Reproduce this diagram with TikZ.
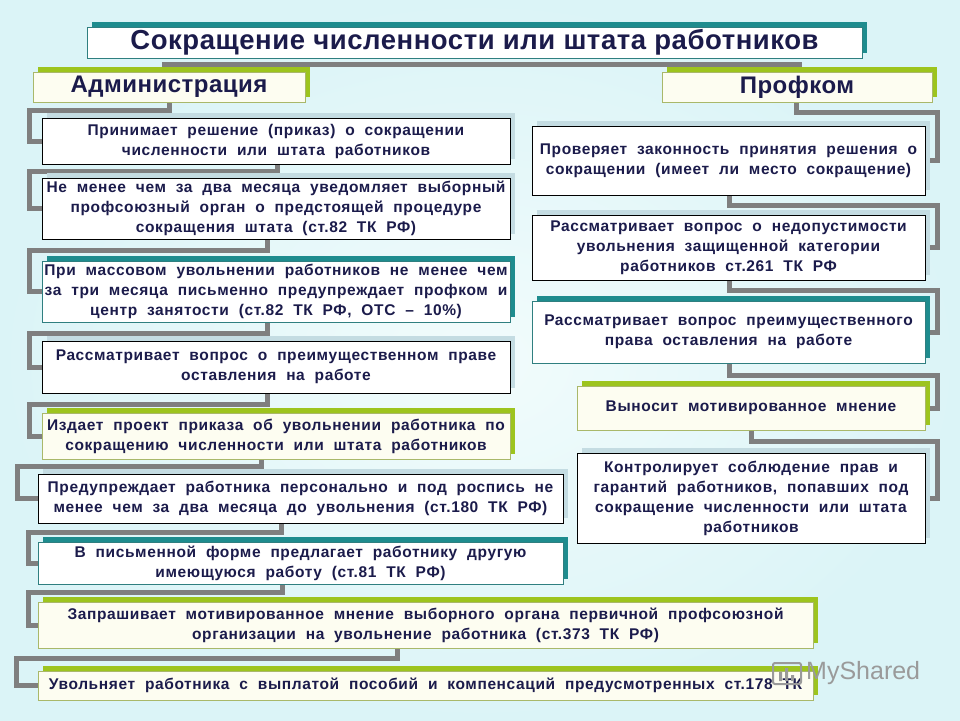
\documentclass[tikz,border=0pt]{standalone}
\usepackage{fontspec}
\setmainfont{Liberation Sans}
\newfontfamily\boxfont[LetterSpace=4, WordSpace=2]{Liberation Sans}
\newfontfamily\headfont[LetterSpace=2]{Liberation Sans}
\usetikzlibrary{shadows}
\definecolor{bgout}{HTML}{DBF4F7}
\definecolor{bgin}{HTML}{F2FCFC}
\definecolor{txt}{HTML}{1B1B4B}
\definecolor{tealc}{HTML}{1E8C8E}
\definecolor{tealb}{HTML}{2F7F80}
\definecolor{greenc}{HTML}{9DC41E}
\definecolor{greenb}{HTML}{A9B86A}
\definecolor{greenfill}{HTML}{FDFDF1}
\definecolor{shl}{HTML}{C4DCE2}
\definecolor{connc}{HTML}{7F7F7F}
\definecolor{wmc}{HTML}{9A9A9A}
\pgfdeclarelayer{bg}
\pgfdeclarelayer{conn}
\pgfsetlayers{bg,conn,main}
\newcommand\mybox[7]{\node[#1, minimum width={#5-#3}, minimum height={#6-#4}] (#2) at ({(#3+#5)/2},{(#4+#6)/2}) {#7};}
\tikzset{
  base/.style={draw, inner sep=1pt, align=center, text=txt, font=\boxfont\bfseries\fontsize{15.5}{20}\selectfont},
  plainbox/.style={base, draw=black, line width=0.8pt, fill=white, general shadow={fill=shl, shadow xshift=5pt, shadow yshift=5pt}},
  tealbox/.style={base, draw=tealb, line width=0.8pt, fill=white, general shadow={fill=tealc, shadow xshift=5pt, shadow yshift=5pt}},
  greenbox/.style={base, draw=greenb, line width=0.8pt, fill=greenfill, general shadow={fill=greenc, shadow xshift=5pt, shadow yshift=5pt}},
  conn/.style={draw=connc, line width=5pt, line join=miter},
  headtext/.style={font=\headfont\bfseries\fontsize{24}{26}\selectfont},
}
\begin{document}
\begin{tikzpicture}[x=1pt,y=-1pt]
\useasboundingbox (0,0) rectangle (960,720);
\begin{pgfonlayer}{bg}
\fill[inner color=bgin, outer color=bgout] (0,0) rectangle (960,720);
\end{pgfonlayer}

% title and heads
\mybox{tealbox, font=\headfont\bfseries\fontsize{27.5}{30}\selectfont}{title}{87}{27}{862}{58}{Сокращение численности или штата работников}
\mybox{greenbox, headtext}{adm}{33}{72}{305}{102}{Администрация}
\mybox{greenbox, headtext}{prof}{662}{72}{932}{102}{Профком}

% left column
\mybox{plainbox}{b1}{42}{118}{510}{164}{Принимает решение (приказ) о сокращении\\численности или штата работников}
\mybox{plainbox}{b2}{42}{178}{510}{239}{Не менее чем за два месяца уведомляет выборный\\профсоюзный орган о предстоящей процедуре\\сокращения штата (ст.82 ТК РФ)}
\mybox{tealbox}{b3}{42}{261}{510}{322}{При массовом увольнении работников не менее чем\\за три месяца письменно предупреждает профком и\\центр занятости (ст.82 ТК РФ, ОТС – 10\%)}
\mybox{plainbox}{b4}{42}{341}{510}{393}{Рассматривает вопрос о преимущественном праве\\оставления на работе}
\mybox{greenbox}{b5}{42}{413}{510}{459}{Издает проект приказа об увольнении работника по\\сокращению численности или штата работников}
\mybox{plainbox}{b6}{38}{474}{563}{523}{Предупреждает работника персонально и под роспись не\\менее чем за два месяца до увольнения (ст.180 ТК РФ)}
\mybox{tealbox}{b7}{38}{542}{563}{584}{В письменной форме предлагает работнику другую\\имеющуюся работу (ст.81 ТК РФ)}
\mybox{greenbox}{b8}{38}{602}{813}{648}{Запрашивает мотивированное мнение выборного органа первичной профсоюзной\\организации на увольнение работника (ст.373 ТК РФ)}
\mybox{greenbox}{b9}{38}{671}{813}{700}{Увольняет работника с выплатой пособий и компенсаций предусмотренных ст.178 ТК}

% right column
\mybox{plainbox}{r1}{532}{126}{925}{195}{Проверяет законность принятия решения о\\сокращении (имеет ли место сокращение)}
\mybox{plainbox}{r2}{532}{215}{925}{280}{Рассматривает вопрос о недопустимости\\увольнения защищенной категории\\работников ст.261 ТК РФ}
\mybox{tealbox}{r3}{532}{301}{925}{363}{Рассматривает вопрос преимущественного\\права оставления на работе}
\mybox{greenbox}{r4}{577}{386}{925}{430}{Выносит мотивированное мнение}
\mybox{plainbox}{r5}{577}{453}{925}{543}{Контролирует соблюдение прав и\\гарантий работников, попавших под\\сокращение численности или штата\\работников}

% watermark
\draw[wmc, line width=2pt, rounded corners=2pt] (773,663) rectangle (801,684);
\fill[wmc] (779,672) rectangle (782,681) (785,668) rectangle (788,681) (791,675) rectangle (794,681);
\node[text=wmc, font=\fontsize{25}{25}\selectfont, anchor=west, inner sep=0pt] (wm) at (806,673) {MyShared};

\begin{pgfonlayer}{conn}
\draw[conn] ([xshift=132pt]adm.north west) -- ++(0,-7) -| ([xshift=138pt]prof.north west);
\draw[conn] ([xshift=137pt]adm.south west) -- ++(0,8) -| ([xshift=-12pt]b1.west) -- (b1.west);
\draw[conn] ([xshift=236pt]b1.south west) -- ++(0,7) -| ([xshift=-12pt]b2.west) -- (b2.west);
\draw[conn] ([xshift=226pt]b2.south west) -- ++(0,11) -| ([xshift=-12pt]b3.west) -- (b3.west);
\draw[conn] ([xshift=226pt]b3.south west) -- ++(0,11) -| ([xshift=-12pt]b4.west) -- (b4.west);
\draw[conn] ([xshift=226pt]b4.south west) -- ++(0,11) -| ([xshift=-12pt]b5.west) -- (b5.west);
\draw[conn] ([xshift=220pt]b5.south west) -- ++(0,7) -| ([xshift=-20pt]b6.west) -- (b6.west);
\draw[conn] ([xshift=244pt]b6.south west) -- ++(0,9) -| ([xshift=-9pt]b7.west) -- (b7.west);
\draw[conn] ([xshift=245pt]b7.south west) -- ++(0,8) -| ([xshift=-9pt]b8.west) -- (b8.west);
\draw[conn] ([xshift=360pt]b8.south west) -- ++(0,10) -| ([xshift=-21pt]b9.west) -- (b9.west);
\draw[conn] ([xshift=135pt]prof.south west) -- ++(0,10) -| ([xshift=12pt]r1.east) -- (r1.east);
\draw[conn] ([xshift=198pt]r1.south west) -- ++(0,10) -| ([xshift=12pt]r2.east) -- (r2.east);
\draw[conn] ([xshift=198pt]r2.south west) -- ++(0,10) -| ([xshift=12pt]r3.east) -- (r3.east);
\draw[conn] ([xshift=198pt]r3.south west) -- ++(0,12) -| ([xshift=12pt]r4.east) -- (r4.east);
\draw[conn] ([xshift=175pt]r4.south west) -- ++(0,11) -| ([xshift=12pt]r5.east) -- (r5.east);
\end{pgfonlayer}
\end{tikzpicture}
\end{document}
